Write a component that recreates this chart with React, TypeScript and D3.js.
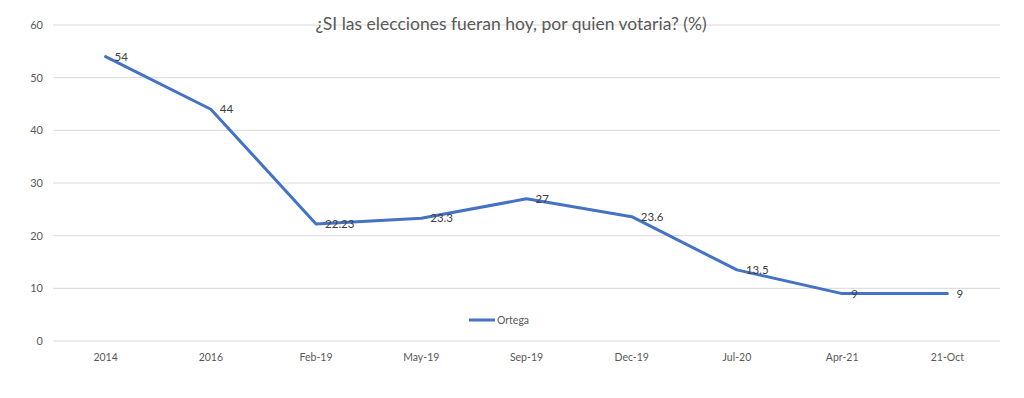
import React, { useEffect, useRef } from 'react';
import * as d3 from 'd3';

const categories = ['2014', '2016', 'Feb-19', 'May-19', 'Sep-19', 'Dec-19', 'Jul-20', 'Apr-21', '21-Oct'];
const ortega = [54, 44, 22.23, 23.3, 27, 23.6, 13.5, 9, 9];
const yTicks = [0, 10, 20, 30, 40, 50, 60];
const seriesName = 'Ortega';
const title = '¿SI las elecciones fueran hoy, por quien votaria? (%)';

const App: React.FC = () => {
  const svgRef = useRef<SVGSVGElement>(null);

  useEffect(() => {
    if (!svgRef.current) return;
    const W = 1024;
    const H = 398;
    const margin = { top: 25, right: 24, bottom: 57, left: 53 };
    const font = 'Lato, "Open Sans", sans-serif';

    const svg = d3.select(svgRef.current);
    svg.selectAll('*').remove();
    svg.attr('width', W).attr('height', H);

    svg.append('rect').attr('width', W).attr('height', H).attr('fill', '#fff');

    const x = d3.scalePoint<string>()
      .domain(categories)
      .range([margin.left, W - margin.right])
      .padding(0.5);

    const y = d3.scaleLinear()
      .domain([0, 60])
      .range([H - margin.bottom, margin.top]);

    // gridlines
    svg.append('g')
      .selectAll('line')
      .data(yTicks)
      .enter().append('line')
      .attr('x1', margin.left)
      .attr('x2', W - margin.right)
      .attr('y1', d => y(d))
      .attr('y2', d => y(d))
      .attr('stroke', '#d9d9d9')
      .attr('stroke-width', 1);

    // y labels
    svg.append('g')
      .selectAll('text')
      .data(yTicks)
      .enter().append('text')
      .attr('x', 43)
      .attr('y', d => y(d))
      .attr('dy', '0.35em')
      .attr('text-anchor', 'end')
      .attr('font-family', font)
      .attr('font-size', 11)
      .attr('fill', '#595959')
      .text(d => d);

    // x labels
    svg.append('g')
      .selectAll('text')
      .data(categories)
      .enter().append('text')
      .attr('x', d => x(d) || 0)
      .attr('y', 361)
      .attr('text-anchor', 'middle')
      .attr('font-family', font)
      .attr('font-size', 10.5)
      .attr('fill', '#595959')
      .text(d => d);

    // title
    svg.append('text')
      .attr('x', 511)
      .attr('y', 30)
      .attr('text-anchor', 'middle')
      .attr('font-family', font)
      .attr('font-size', 17.5)
      .attr('fill', '#595959')
      .text(title);

    const line = d3.line<number>()
      .x((_, i) => x(categories[i]) || 0)
      .y(d => y(d));

    svg.append('path')
      .datum(ortega)
      .attr('d', line)
      .attr('fill', 'none')
      .attr('stroke', '#4472C4')
      .attr('stroke-width', 3)
      .attr('stroke-linejoin', 'round')
      .attr('stroke-linecap', 'round');

    // data labels
    svg.append('g')
      .selectAll('text')
      .data(ortega)
      .enter().append('text')
      .attr('x', (_, i) => (x(categories[i]) || 0) + 9)
      .attr('y', d => y(d))
      .attr('dy', '0.35em')
      .attr('font-family', font)
      .attr('font-size', 11.5)
      .attr('fill', '#404040')
      .text(d => d);

    // legend
    const lg = svg.append('g');
    lg.append('line')
      .attr('x1', 469).attr('x2', 495)
      .attr('y1', 320).attr('y2', 320)
      .attr('stroke', '#4472C4')
      .attr('stroke-width', 3);
    lg.append('text')
      .attr('x', 497)
      .attr('y', 320)
      .attr('dy', '0.35em')
      .attr('font-family', font)
      .attr('font-size', 10.5)
      .attr('fill', '#595959')
      .text(seriesName);
  }, []);

  return (
    <svg ref={svgRef} style={{ position: 'absolute', left: 0, top: 0, display: 'block' }}></svg>
  );
};

export default App;
